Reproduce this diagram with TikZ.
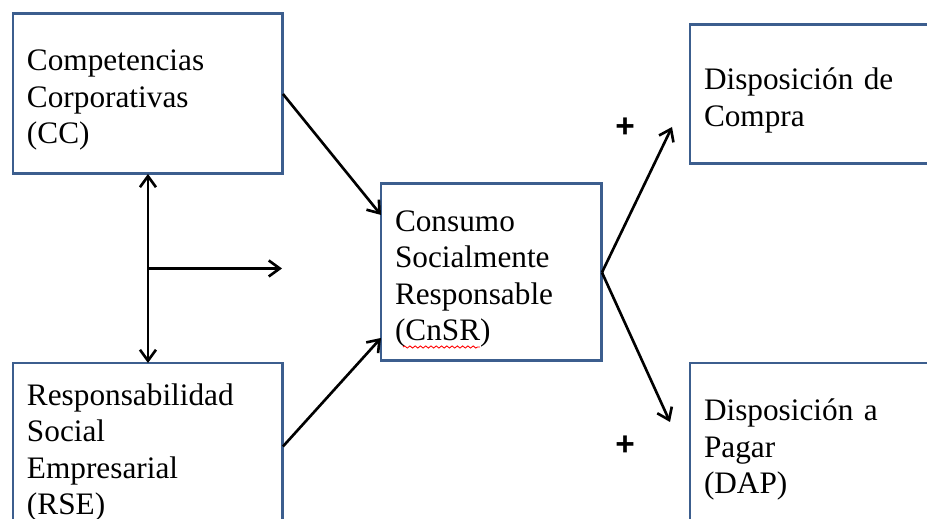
\documentclass[tikz,border=0pt]{standalone}
\usepackage{fontspec}
\setmainfont{Liberation Serif}
\setsansfont{Liberation Sans}
\usetikzlibrary{positioning,arrows.meta,calc,decorations.pathmorphing}
\definecolor{boxblue}{RGB}{60,94,142}

\begin{document}
\begin{tikzpicture}[x=0.02cm, y=-0.02cm, line width=1.5pt,
        >={Straight Barb[length=0.22cm,width=0.32cm]},
        box/.style = {draw=boxblue, line width=1.7pt, rectangle, anchor=north west, outer sep=0pt,
            align=left, inner xsep=0.28cm, inner ysep=0pt, font=\fontsize{17.8}{20.8}\selectfont,
            text height=0.67cm},
        sign/.style = {font=\sffamily\bfseries\fontsize{19}{19}\selectfont, inner sep=0pt}]
        \useasboundingbox (0,0) rectangle (927,519);
        \clip (0,0) rectangle (927,519);

        \node[box, text width=4.84cm, minimum height=3.2cm] (CC) at (13,14) {Competencias\\Corporativas\\(CC)};
        \node[box, text width=4.84cm, minimum height=3.34cm] (RSE) at (13,363) {Responsabilidad\\Social\\Empresarial\\(RSE)};
        \node[box, text width=3.86cm, minimum height=3.54cm] (CnSR) at (381,184) {Consumo\\Socialmente\\Responsable\\(CnSR)};
        \node[box, text width=4.64cm, minimum height=2.78cm] (DC) at (690,25) {Disposición de\\Compra};
        \node[box, text width=4.64cm, minimum height=3.24cm] (DAP) at (690,363) {Disposición a\\Pagar\\(DAP)};

        \node[sign] (plusDC) at (625,128) {+};
        \node[sign] (plusDAP) at (625,446) {+};

        \coordinate (mid) at ($(CC.south)!.5!(RSE.north)$);
        \coordinate (hEnd) at (282,270);
        \coordinate (dcTip) at (672,127);
        \coordinate (dapTip) at (670,422);

        \draw[<->] (CC.south) -- (RSE.north);
        \draw[->] (mid) -- (mid -| hEnd);
        \draw[->] (CC.east) -- ($(CnSR.north west)!.175!(CnSR.south west)$);
        \draw[->] (RSE.east) -- ($(CnSR.north west)!.87!(CnSR.south west)$);
        \draw[->] (CnSR.east) -- (dcTip);
        \draw[->] (CnSR.east) -- (dapTip);

        % spell-check underline
        \draw[red, line width=0.5pt, decorate, decoration={snake, amplitude=0.6pt, segment length=3pt}] (403,347) -- (480,347);
    \end{tikzpicture}
\end{document}
